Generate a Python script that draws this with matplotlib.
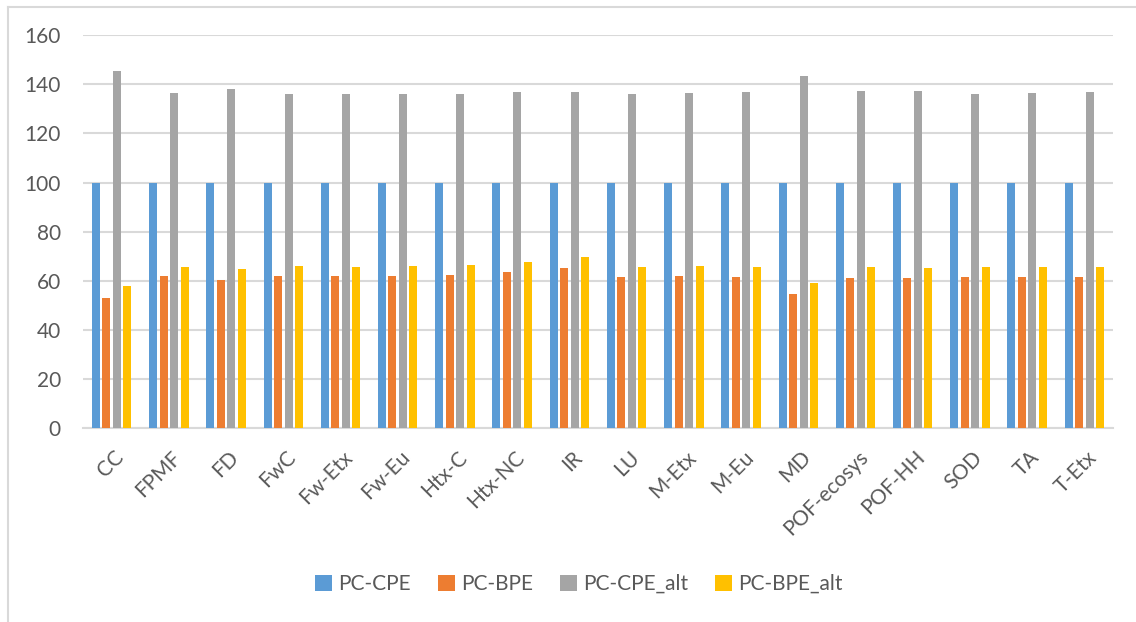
import matplotlib.pyplot as plt
import numpy as np
from matplotlib.lines import Line2D

plt.rcParams['font.family'] = ['Lato', 'DejaVu Sans']

categories = ["CC", "FPMF", "FD", "FwC", "Fw-Etx", "Fw-Eu", "Htx-C", "Htx-NC", "IR",
              "LU", "M-Etx", "M-Eu", "MD", "POF-ecosys", "POF-HH", "SOD", "TA", "T-Etx"]

pc_cpe = [100] * 18
pc_bpe = [52.9, 61.8, 60.3, 62.0, 61.8, 61.8, 62.3, 63.5, 65.2,
          61.5, 61.9, 61.5, 54.4, 61.0, 61.0, 61.5, 61.5, 61.5]
pc_cpe_alt = [145.5, 136.6, 138.0, 136.3, 136.3, 136.2, 136.3, 136.9, 136.8,
              136.2, 136.5, 136.8, 143.4, 137.4, 137.3, 136.3, 136.5, 136.8]
pc_bpe_alt = [57.8, 65.7, 64.6, 66.0, 65.7, 65.8, 66.4, 67.6, 69.7,
              65.6, 66.0, 65.6, 59.1, 65.5, 65.2, 65.6, 65.6, 65.6]

series = [("PC-CPE", pc_cpe, "#5B9BD5"),
          ("PC-BPE", pc_bpe, "#ED7D31"),
          ("PC-CPE_alt", pc_cpe_alt, "#A5A5A5"),
          ("PC-BPE_alt", pc_bpe_alt, "#FFC000")]

text_col = "#595959"
grid_col = "#D9D9D9"

fig = plt.figure(figsize=(11.36, 6.22), dpi=100)
ax = fig.add_axes([83 / 1136, 1 - 427.7 / 622, 1030 / 1136, 392.3 / 622])

x = np.arange(len(categories))
pitch = 0.1835
width = 0.14
for i, (name, vals, col) in enumerate(series):
    ax.bar(x + (i - 1.5) * pitch, vals, width, color=col, label=name, zorder=3)

ax.set_xlim(-0.5, len(categories) - 0.5)
ax.set_ylim(0, 160)
ax.set_yticks(np.arange(0, 161, 20))
ax.yaxis.grid(True, color=grid_col, linewidth=1.5, zorder=0)
ax.tick_params(axis='y', length=0, pad=16, labelsize=15, labelcolor=text_col)
ax.tick_params(axis='x', length=0, pad=14, labelsize=15, labelcolor=text_col)
ax.set_xticks(x + 0.04)
ax.set_xticklabels(categories, rotation=45, ha='right', rotation_mode='anchor')
for s in ["top", "right", "left"]:
    ax.spines[s].set_visible(False)
ax.spines["bottom"].set_color(grid_col)
ax.spines["bottom"].set_linewidth(1.5)

fig.legend(loc="center", bbox_to_anchor=(579 / 1136, 1 - 584 / 622), ncol=4,
           frameon=False, fontsize=15, labelcolor=text_col,
           handlelength=0.8, handleheight=0.8, handletextpad=0.3, columnspacing=1.3)

# light frame around the chart area
fig.add_artist(Line2D([7.5 / 1136, 1], [1 - 6.5 / 622] * 2, color=grid_col, lw=1.5,
                      transform=fig.transFigure))
fig.add_artist(Line2D([7.5 / 1136] * 2, [0, 1 - 6.5 / 622], color=grid_col, lw=1.5,
                      transform=fig.transFigure))

fig.savefig("out.png", dpi=100)
